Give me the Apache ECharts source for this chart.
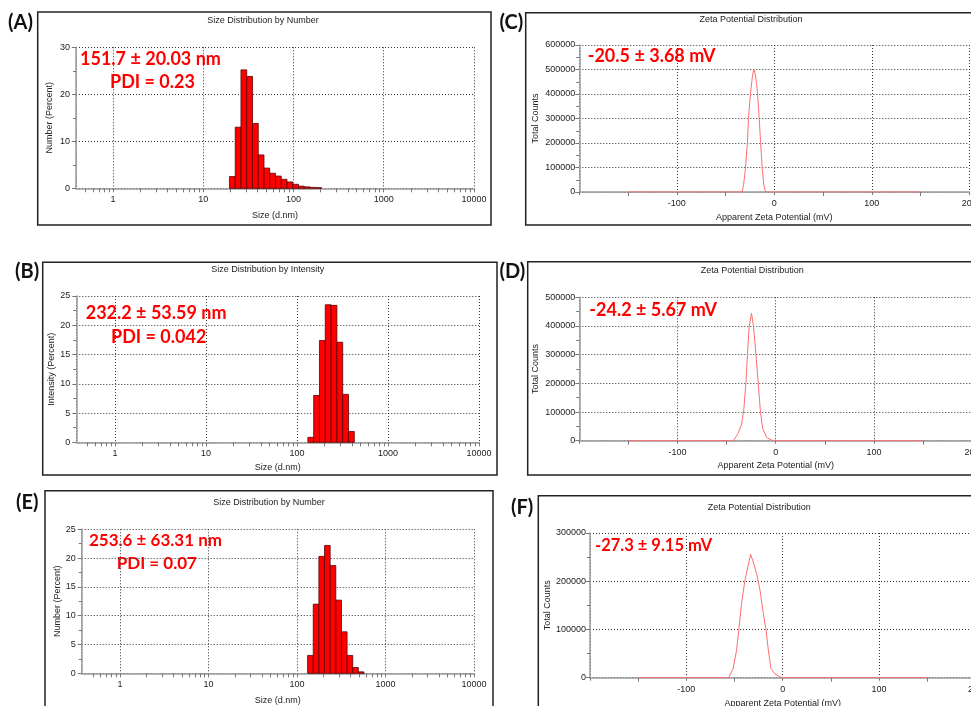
<!DOCTYPE html>
<html><head><meta charset="utf-8">
<script src="https://cdn.jsdelivr.net/npm/echarts@6/dist/echarts.min.js"></script>
<style>html,body{margin:0;padding:0;background:#fff}#c{width:971px;height:706px}</style>
</head><body><div id="c"></div>
<script>
// ---------------- data ----------------
// (A) size distribution by number
const SIZE_CLASSES_A = [21.04, 24.36, 28.21, 32.67, 37.84, 43.82, 50.75, 58.77, 68.06, 78.82, 91.28, 105.7, 122.4, 141.8, 164.2, 190.1];
const NUMBER_A = [2.5, 13.0, 25.2, 23.8, 13.8, 7.1, 4.3, 3.2, 2.6, 1.9, 1.35, 0.85, 0.45, 0.3, 0.2, 0.15];
// (B) size distribution by intensity
const SIZE_CLASSES_B = [141.8, 164.2, 190.1, 220.2, 255.0, 295.3, 342.0, 396.1];
const INTENSITY_B = [0.85, 8.0, 17.4, 23.5, 23.4, 17.1, 8.2, 1.85];
// (E) size distribution by number
const SIZE_CLASSES_E = [141.8, 164.2, 190.1, 220.2, 255.0, 295.3, 342.0, 396.1, 458.7, 531.2];
const NUMBER_E = [3.1, 12.0, 20.3, 22.2, 18.7, 12.7, 7.2, 3.1, 1.0, 0.25];
// (C) zeta potential
const ZETA_C_MV = [-150, -33, -31.5, -29.6, -27.5, -26.5, -24.4, -22.5, -21, -19.5, -18.2, -17.2, -15.5, -14.1, -12.4, -10.7, -9, 150];
const ZETA_C_COUNTS = [0, 0, 30000, 97000, 206000, 300000, 403000, 470000, 502000, 480000, 443000, 403000, 300000, 206000, 97000, 28000, 0, 0];
// (D) zeta potential
const ZETA_D_MV = [-150, -43, -38.3, -34.9, -32.5, -30.4, -28.7, -27, -24.6, -22.6, -20.2, -17.8, -15.7, -13.3, -9.2, -4.1, 0, 150];
const ZETA_D_COUNTS = [0, 0, 25600, 55000, 107000, 200000, 305000, 398000, 444000, 398000, 305000, 200000, 107000, 43000, 11600, 2000, 0, 0];
// (F) zeta potential
const ZETA_F_MV = [-150, -55.9, -51.4, -47.9, -45.5, -42.7, -39.2, -35.8, -33.3, -30.6, -27.1, -23.6, -20.1, -17.4, -14.9, -12.2, -8, -2.8, 0, 150];
const ZETA_F_COUNTS = [0, 0, 19300, 57000, 100000, 154000, 202000, 233000, 256000, 240000, 216000, 182000, 133000, 100000, 57000, 19000, 7600, 1500, 0, 0];

const LOG_MAJOR_LABELS = [1, 10, 100, 1000, 10000];
const LOG_MINOR_TICKS = [0.5,0.6,0.7,0.8,0.9,2,3,4,5,6,7,8,9,20,30,40,50,60,70,80,90,200,300,400,500,600,700,800,900,2000,3000,4000,5000,6000,7000,8000,9000];

const PANEL_LETTERS = ['(A)', '(B)', '(C)', '(D)', '(E)', '(F)'];
const ANNOTATIONS = {
  A: ['151.7 \u00b1 20.03 nm', 'PDI = 0.23'],
  B: ['232.2 \u00b1 53.59 nm', 'PDI = 0.042'],
  E: ['253.6 \u00b1 63.31 nm', 'PDI = 0.07'],
  C: '-20.5 \u00b1 3.68 mV',
  D: '-24.2 \u00b1 5.67 mV',
  F: '-27.3 \u00b1 9.15 mV'
};

// ---------------- helpers ----------------
const FONT = '"Liberation Sans", Arial, sans-serif';
const BOLD = 'Lato, "Open Sans", sans-serif';
const GRID_LINE = { color: '#333', type: [1, 2], width: 1 };
const AXIS_LINE = { color: '#9a9a9a', width: 1.5 };

function binData(centers, values) {
  return centers.map((c, i) => {
    const prev = i > 0 ? centers[i - 1] : c * c / centers[i + 1];
    const next = i < centers.length - 1 ? centers[i + 1] : c * c / centers[i - 1];
    return [c, values[i], Math.sqrt(prev * c), Math.sqrt(c * next)];
  });
}
function zip(xs, ys) { return xs.map((x, i) => [x, ys[i]]); }

function logAxis(gi, min, gap) {
  return {
    type: 'log', gridIndex: gi, min: min, max: 10000, logBase: 10, position: 'bottom',
    name: 'Size (d.nm)', nameLocation: 'middle', nameGap: gap,
    nameTextStyle: { fontSize: 9, color: '#222', fontFamily: FONT },
    axisLine: { show: true, onZero: false, lineStyle: AXIS_LINE },
    axisTick: { show: true, length: 4, lineStyle: { color: '#777' } },
    axisLabel: { fontSize: 9, color: '#222', fontFamily: FONT, margin: 7, showMinLabel: false,
      formatter: v => (v >= 0.999 ? String(Math.round(v)) : '') },
    splitLine: { show: true, lineStyle: GRID_LINE },
    minorTick: { show: false }, minorSplitLine: { show: false }
  };
}
function logMinorAxis(gi, min) {
  return {
    type: 'log', gridIndex: gi, min: min, max: 10000, logBase: 10, position: 'bottom',
    axisLine: { show: false }, axisLabel: { show: false }, splitLine: { show: false },
    axisTick: { show: true, length: 4, customValues: LOG_MINOR_TICKS, lineStyle: { color: '#777' } }
  };
}
function zetaAxis(gi, gap) {
  return {
    type: 'value', gridIndex: gi, min: -200, max: 200, interval: 100, position: 'bottom',
    name: 'Apparent Zeta Potential (mV)', nameLocation: 'middle', nameGap: gap,
    nameTextStyle: { fontSize: 9, color: '#222', fontFamily: FONT },
    axisLine: { show: true, onZero: false, lineStyle: AXIS_LINE },
    axisTick: { show: true, length: 3, lineStyle: { color: '#777' } },
    minorTick: { show: true, splitNumber: 2, length: 4, lineStyle: { color: '#777' } },
    axisLabel: { fontSize: 9, color: '#222', fontFamily: FONT, margin: 7, showMinLabel: false,
      formatter: v => String(v) },
    splitLine: { show: true, lineStyle: GRID_LINE }
  };
}
function yAxis(gi, max, interval, name, gap, margin) {
  return {
    type: 'value', gridIndex: gi, min: 0, max: max, interval: interval,
    name: name, nameLocation: 'middle', nameGap: gap,
    nameTextStyle: { fontSize: 9, color: '#222', fontFamily: FONT },
    axisLine: { show: true, onZero: false, lineStyle: AXIS_LINE },
    axisTick: { show: true, length: 4, lineStyle: { color: '#777' } },
    minorTick: { show: true, splitNumber: 2, length: 3, lineStyle: { color: '#777' } },
    axisLabel: { fontSize: 9, color: '#222', fontFamily: FONT, margin: margin, formatter: v => String(v) },
    splitLine: { show: true, lineStyle: GRID_LINE }
  };
}
function barSeries(xi, yi, data) {
  return {
    type: 'custom', xAxisIndex: xi, yAxisIndex: yi,
    dimensions: ['size', 'value', 'lo', 'hi'],
    encode: { x: 0, y: 1 },
    data: data,
    renderItem: (params, api) => {
      const p0 = api.coord([api.value(2), 0]);
      const p1 = api.coord([api.value(3), api.value(1)]);
      return { type: 'rect',
        shape: { x: p0[0], y: p1[1], width: p1[0] - p0[0], height: p0[1] - p1[1] },
        style: { fill: '#ff0000', stroke: '#5a0000', lineWidth: 0.8 } };
    }
  };
}
function lineSeries(xi, yi, data) {
  return { type: 'line', xAxisIndex: xi, yAxisIndex: yi, data: data, showSymbol: false, symbol: 'none',
    smooth: false, lineStyle: { color: '#ff6e6e', width: 1 }, z: 3 };
}
function txt(x, y, text, font, fill, align) {
  return { type: 'text', x: x, y: y, silent: true,
    style: { text: text, font: font, fill: fill || '#222', align: align || 'left', verticalAlign: 'middle' } };
}
function frame(x, y, w, h) {
  return { type: 'rect', silent: true, shape: { x: x, y: y, width: w, height: h },
    style: { fill: 'none', stroke: '#222', lineWidth: 1.5 } };
}

// ---------------- option ----------------
const TF = '9px ' + FONT;
const option = {
  backgroundColor: '#fff',
  animation: false,
  grid: [
    { left: 76, top: 47.3, width: 398, height: 141, outerBoundsMode: 'none' },      // A
    { left: 76.3, top: 296, width: 402.7, height: 146.3, outerBoundsMode: 'none' }, // B
    { left: 81.7, top: 529.3, width: 392.3, height: 144, outerBoundsMode: 'none' }, // E
    { left: 579.3, top: 45, width: 390, height: 147, outerBoundsMode: 'none' },     // C
    { left: 579.3, top: 297.3, width: 392.8, height: 143.4, outerBoundsMode: 'none' }, // D
    { left: 590, top: 533, width: 385.4, height: 144.7, outerBoundsMode: 'none' }   // F
  ],
  xAxis: [
    logAxis(0, 0.39, 23), logAxis(1, 0.376, 21), logAxis(2, 0.369, 23),
    zetaAxis(3, 21.5), zetaAxis(4, 20.5), zetaAxis(5, 21),
    logMinorAxis(0, 0.39), logMinorAxis(1, 0.376), logMinorAxis(2, 0.369)
  ],
  yAxis: [
    yAxis(0, 30, 10, 'Number (Percent)', 21.5, 6),
    yAxis(1, 25, 5, 'Intensity (Percent)', 20, 6),
    yAxis(2, 25, 5, 'Number (Percent)', 18, 6),
    yAxis(3, 600000, 100000, 'Total Counts', 39, 4),
    yAxis(4, 500000, 100000, 'Total Counts', 39, 4),
    yAxis(5, 300000, 100000, 'Total Counts', 38, 4)
  ],
  series: [
    barSeries(0, 0, binData(SIZE_CLASSES_A, NUMBER_A)),
    barSeries(1, 1, binData(SIZE_CLASSES_B, INTENSITY_B)),
    barSeries(2, 2, binData(SIZE_CLASSES_E, NUMBER_E)),
    lineSeries(3, 3, zip(ZETA_C_MV, ZETA_C_COUNTS)),
    lineSeries(4, 4, zip(ZETA_D_MV, ZETA_D_COUNTS)),
    lineSeries(5, 5, zip(ZETA_F_MV, ZETA_F_COUNTS))
  ],
  graphic: [
    frame(37.7, 12, 453.3, 213),
    frame(42.7, 262.3, 454.3, 212.7),
    frame(45, 490.7, 448, 240),
    frame(525.7, 12.7, 460, 212.3),
    frame(527.7, 261.7, 460, 213.3),
    frame(538.3, 495.7, 460, 240),
    txt(263, 21, 'Size Distribution by Number', TF, '#222', 'center'),
    txt(267.8, 270, 'Size Distribution by Intensity', TF, '#222', 'center'),
    txt(269, 502.3, 'Size Distribution by Number', TF, '#222', 'center'),
    txt(751, 19.5, 'Zeta Potential Distribution', TF, '#222', 'center'),
    txt(752.3, 270.7, 'Zeta Potential Distribution', TF, '#222', 'center'),
    txt(759.3, 507.3, 'Zeta Potential Distribution', TF, '#222', 'center'),
    txt(8, 23, PANEL_LETTERS[0], 'bold 20px ' + BOLD, '#111'),
    txt(15, 272, PANEL_LETTERS[1], 'bold 20px ' + BOLD, '#111'),
    txt(499.5, 23, PANEL_LETTERS[2], 'bold 20px ' + BOLD, '#111'),
    txt(499.5, 271.5, PANEL_LETTERS[3], 'bold 20px ' + BOLD, '#111'),
    txt(16, 502.5, PANEL_LETTERS[4], 'bold 20px ' + BOLD, '#111'),
    txt(511, 507.5, PANEL_LETTERS[5], 'bold 20px ' + BOLD, '#111'),
    txt(80, 59, ANNOTATIONS.A[0], 'bold 18px ' + BOLD, '#ff0000'),
    txt(110, 82, ANNOTATIONS.A[1], 'bold 18px ' + BOLD, '#ff0000'),
    txt(85.7, 313.3, ANNOTATIONS.B[0], 'bold 18px ' + BOLD, '#ff0000'),
    txt(111, 336.7, ANNOTATIONS.B[1], 'bold 18px ' + BOLD, '#ff0000'),
    txt(89, 540.7, ANNOTATIONS.E[0], 'bold 17px ' + BOLD, '#ff0000'),
    txt(116.7, 563.3, ANNOTATIONS.E[1], 'bold 17px ' + BOLD, '#ff0000'),
    txt(587.7, 56, ANNOTATIONS.C, 'bold 18px ' + BOLD, '#ff0000'),
    txt(589.3, 310, ANNOTATIONS.D, 'bold 18px ' + BOLD, '#ff0000'),
    txt(595, 546, ANNOTATIONS.F, 'bold 16.5px ' + BOLD, '#ff0000')
  ]
};
const chart = echarts.init(document.getElementById('c'), null, { renderer: 'canvas', width: 971, height: 706 });
chart.setOption(option);
</script>
</body></html>
